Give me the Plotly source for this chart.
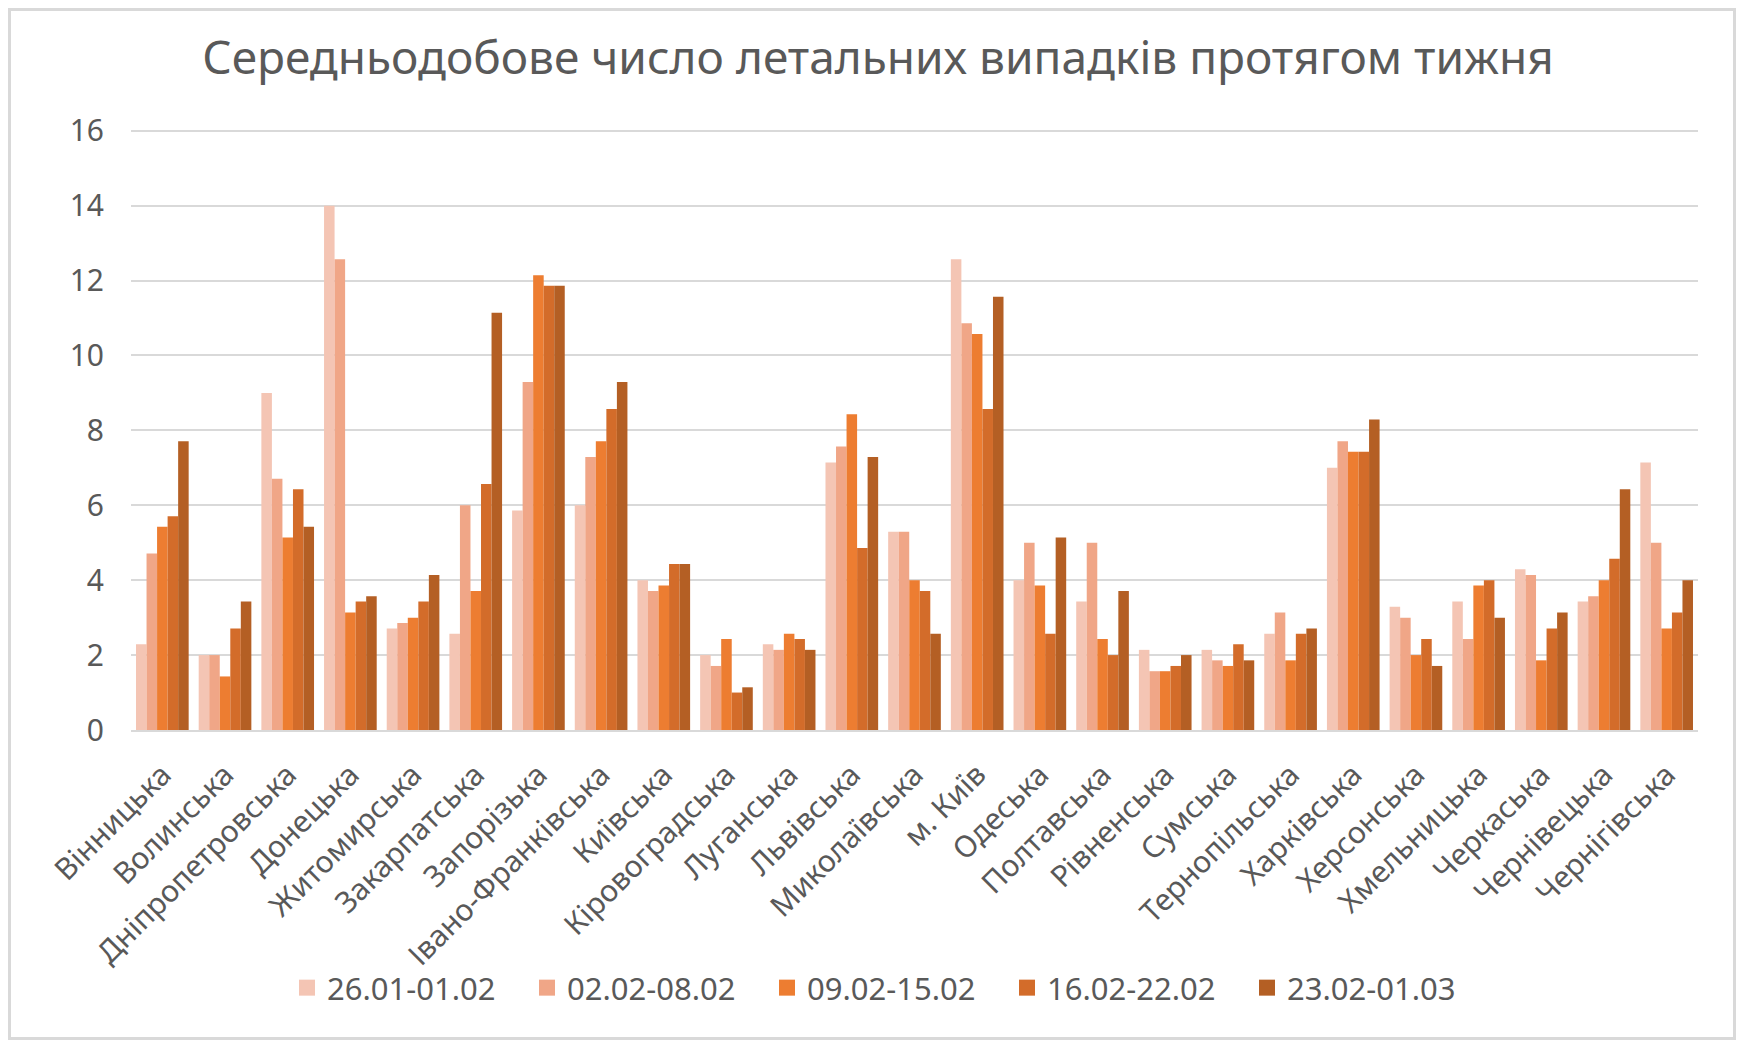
import plotly.graph_objects as go

# Області
regions = [
    "Вінницька", "Волинська", "Дніпропетровська", "Донецька", "Житомирська",
    "Закарпатська", "Запорізька", "Івано-Франківська", "Київська", "Кіровоградська",
    "Луганська", "Львівська", "Миколаївська", "м. Київ", "Одеська",
    "Полтавська", "Рівненська", "Сумська", "Тернопільська", "Харківська",
    "Херсонська", "Хмельницька", "Черкаська", "Чернівецька", "Чернігівська",
]

week_labels = ["26.01-01.02", "02.02-08.02", "09.02-15.02", "16.02-22.02", "23.02-01.03"]

week1 = [2.29, 2.0, 9.0, 14.0, 2.71, 2.57, 5.86, 6.0, 4.0, 2.0,
         2.29, 7.14, 5.29, 12.57, 4.0, 3.43, 2.14, 2.14, 2.57, 7.0,
         3.29, 3.43, 4.29, 3.43, 7.14]
week2 = [4.71, 2.0, 6.71, 12.57, 2.86, 6.0, 9.29, 7.29, 3.71, 1.71,
         2.14, 7.57, 5.29, 10.86, 5.0, 5.0, 1.57, 1.86, 3.14, 7.71,
         3.0, 2.43, 4.14, 3.57, 5.0]
week3 = [5.43, 1.43, 5.14, 3.14, 3.0, 3.71, 12.14, 7.71, 3.86, 2.43,
         2.57, 8.43, 4.0, 10.57, 3.86, 2.43, 1.57, 1.71, 1.86, 7.43,
         2.0, 3.86, 1.86, 4.0, 2.71]
week4 = [5.71, 2.71, 6.43, 3.43, 3.43, 6.57, 11.86, 8.57, 4.43, 1.0,
         2.43, 4.86, 3.71, 8.57, 2.57, 2.0, 1.71, 2.29, 2.57, 7.43,
         2.43, 4.0, 2.71, 4.57, 3.14]
week5 = [7.71, 3.43, 5.43, 3.57, 4.14, 11.14, 11.86, 9.29, 4.43, 1.14,
         2.14, 7.29, 2.57, 11.57, 5.14, 3.71, 2.0, 1.86, 2.71, 8.29,
         1.71, 3.0, 3.14, 6.43, 4.0]

series = [week1, week2, week3, week4, week5]
colors = ["#F4C5B4", "#F0A687", "#ED7D31", "#D36C2A", "#B45F24"]

fig = go.Figure()
for name, vals, col in zip(week_labels, series, colors):
    fig.add_trace(go.Bar(x=regions, y=vals, name=name, marker_color=col,
                         marker_line_width=0, showlegend=False))
    # окремий запис для легенди з більшим квадратиком
    fig.add_trace(go.Scatter(x=[None], y=[None], mode="markers", name=name,
                             marker=dict(symbol="square", size=16, color=col)))

# сторінка має відступ 8px, тому фігура трохи менша
W, H = 1728, 1032
ml, mr, mt, mb = 123, 38, 119, 310
pw, ph = W - ml - mr, H - mt - mb

fig.update_layout(
    width=W, height=H,
    margin=dict(l=ml, r=mr, t=mt, b=mb),
    paper_bgcolor="white", plot_bgcolor="white",
    font=dict(family="Noto Sans", color="#595959"),
    title=dict(text="Середньодобове число летальних випадків протягом тижня",
               x=870 / W, xanchor="center", y=1 - 50 / H, yanchor="middle",
               font=dict(size=46, color="#595959")),
    barmode="group", bargap=0.16, bargroupgap=0,
    legend=dict(orientation="h", x=(879 - ml) / pw, xanchor="center",
                y=-(980 - mt - ph) / ph, yanchor="middle",
                bgcolor="rgba(0,0,0,0)",
                font=dict(size=31, color="#595959"),
                entrywidth=195, entrywidthmode="pixels"),
    showlegend=True,
)
fig.update_xaxes(tickangle=-45, tickfont=dict(size=30, color="#595959"),
                 showline=True, linecolor="#D9D9D9", linewidth=2,
                 ticks="", ticklabelstandoff=13)
fig.update_yaxes(range=[0, 16.1], tickvals=[0, 2, 4, 6, 8, 10, 12, 14, 16],
                 tickfont=dict(size=30, color="#595959"),
                 showgrid=True, gridcolor="#D9D9D9", gridwidth=2,
                 zeroline=False, ticks="", ticklabelstandoff=26)

# рамка навколо діаграми
fig.add_shape(type="rect", xref="paper", yref="paper",
              x0=-ml / pw, x1=1 + mr / pw, y0=-mb / ph, y1=1 + mt / ph,
              line=dict(color="#D9D9D9", width=6), layer="below")

fig.write_html("out.html")
